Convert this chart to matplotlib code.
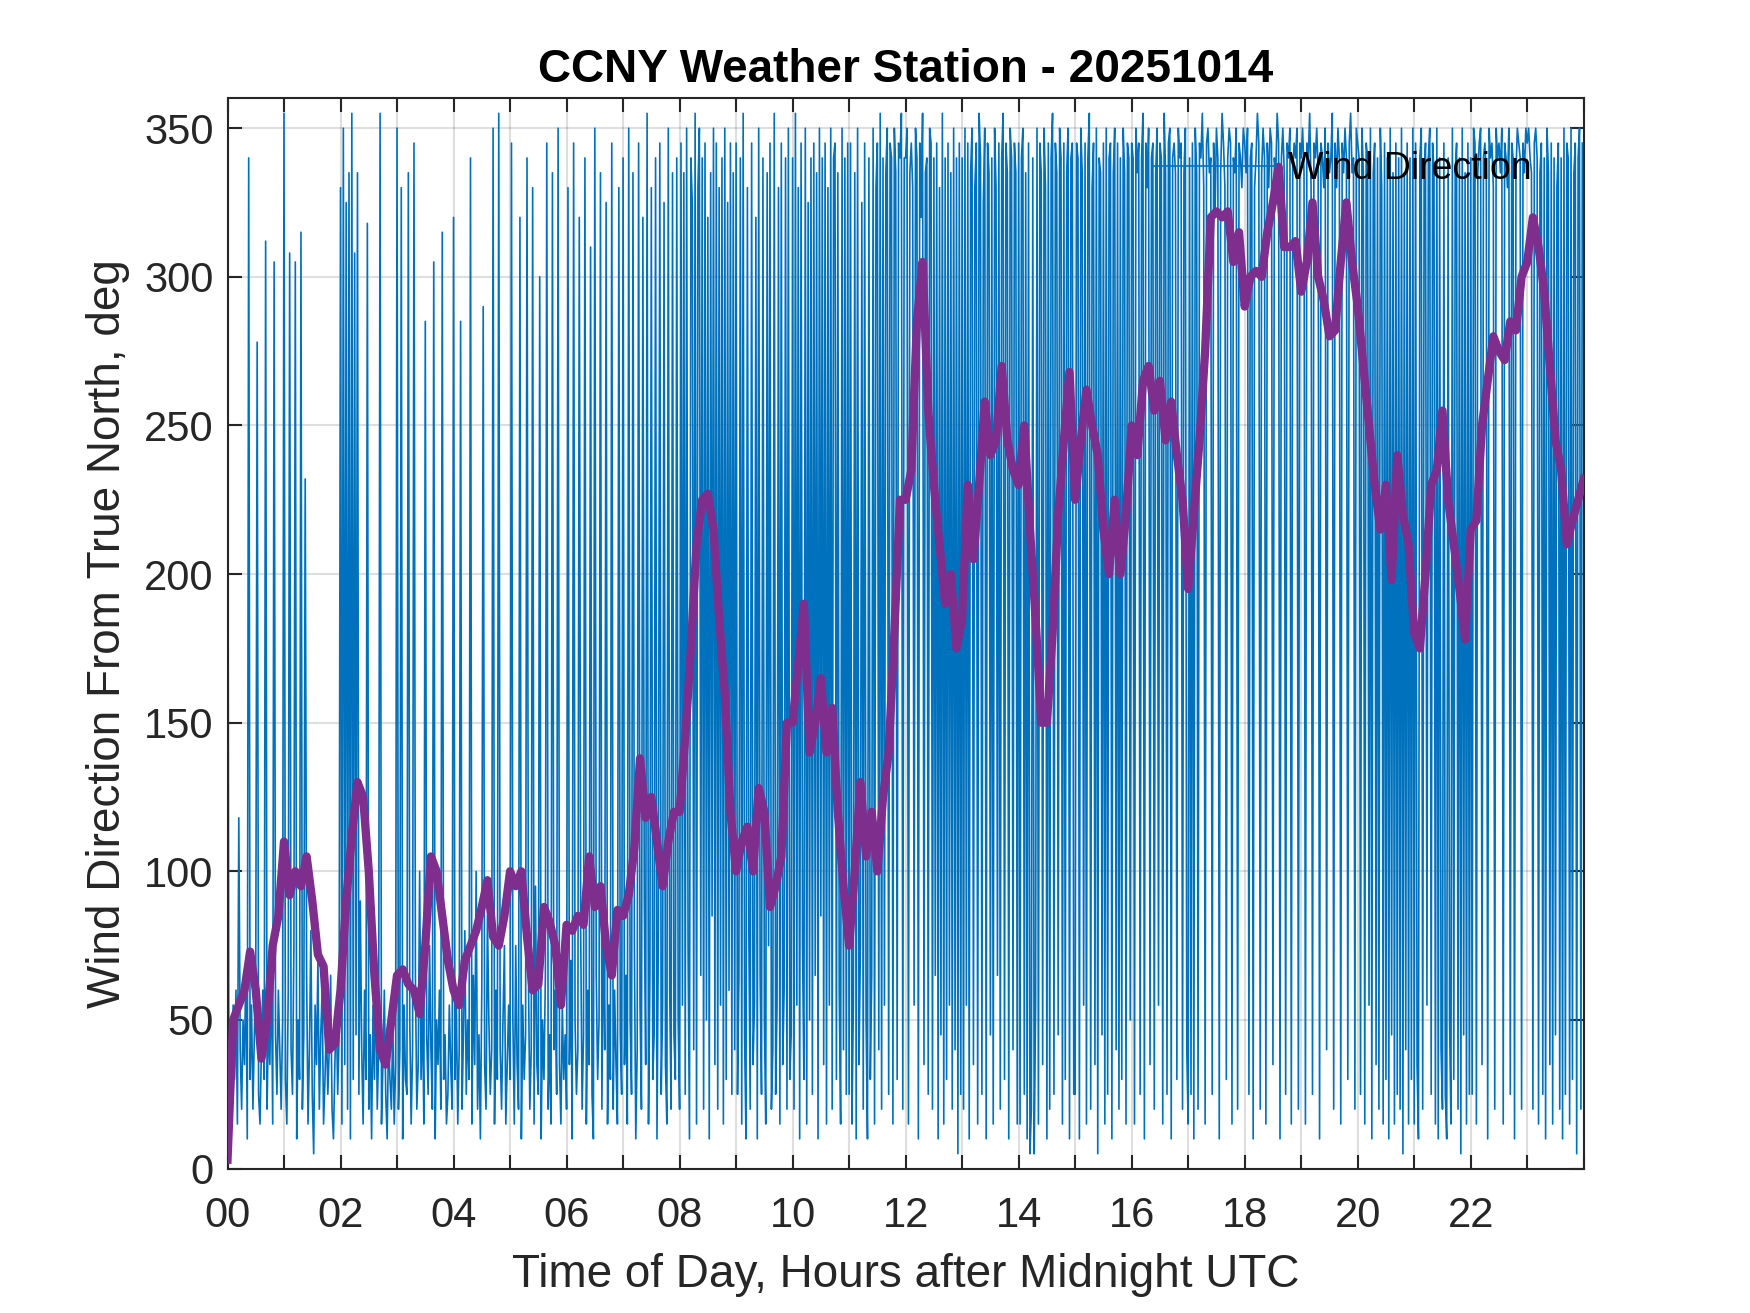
import numpy as np
import matplotlib
matplotlib.use("Agg")
import matplotlib.pyplot as plt

plt.rcParams['font.family'] = ['Liberation Sans', 'DejaVu Sans']

# wind direction samples, one list per hour (deg from true north)
wd_00 = [335, 10, 45, 25, 55, 30, 60, 15, 118, 40, 20, 50, 35, 70, 10, 340, 30, 55, 20, 45, 65, 278, 25, 15, 40, 60, 30, 312, 20, 50, 35, 70, 15, 305, 45, 25, 60, 40, 20, 50]
wd_01 = [355, 30, 15, 60, 308, 40, 25, 75, 305, 10, 50, 30, 315, 20, 45, 232, 65, 15, 40, 80, 25, 5, 55, 35, 70, 20, 45, 60, 15, 30, 50, 25, 40, 65, 20, 10, 35, 55, 25, 45]
wd_02 = [330, 15, 350, 35, 325, 20, 335, 10, 355, 30, 308, 45, 335, 25, 90, 40, 15, 60, 30, 318, 20, 45, 10, 55, 30, 70, 20, 40, 355, 15, 35, 60, 25, 10, 45, 30, 20, 50, 15, 35]
wd_03 = [350, 20, 40, 330, 10, 55, 30, 25, 335, 50, 15, 40, 345, 65, 20, 35, 100, 30, 55, 15, 285, 45, 25, 75, 40, 20, 305, 10, 50, 35, 60, 20, 315, 30, 45, 15, 25, 55, 35, 20]
wd_04 = [320, 30, 55, 15, 40, 285, 20, 45, 80, 25, 50, 30, 340, 15, 65, 35, 100, 20, 45, 10, 60, 290, 35, 20, 85, 50, 25, 40, 350, 15, 60, 30, 355, 40, 20, 50, 75, 15, 35, 55]
wd_05 = [30, 345, 50, 15, 75, 35, 20, 320, 10, 55, 30, 45, 340, 65, 20, 40, 330, 15, 95, 35, 25, 300, 10, 50, 30, 65, 345, 20, 45, 15, 335, 40, 60, 25, 350, 35, 15, 55, 30, 45]
wd_06 = [20, 330, 35, 70, 10, 345, 50, 25, 40, 320, 80, 20, 45, 340, 15, 60, 35, 310, 25, 10, 350, 65, 30, 50, 335, 20, 85, 40, 325, 15, 55, 30, 345, 20, 60, 35, 15, 330, 45, 25]
wd_07 = [340, 35, 65, 15, 350, 50, 25, 335, 75, 10, 40, 345, 55, 20, 320, 90, 35, 355, 15, 65, 330, 30, 45, 340, 10, 80, 345, 25, 55, 325, 35, 15, 350, 60, 20, 335, 45, 30, 340, 50]
wd_08 = [20, 345, 55, 335, 25, 350, 75, 10, 340, 325, 40, 355, 15, 330, 350, 65, 340, 20, 345, 50, 320, 10, 335, 85, 350, 35, 345, 20, 330, 55, 340, 15, 350, 30, 325, 60, 345, 25, 335, 40]
wd_09 = [345, 25, 65, 340, 15, 355, 45, 10, 330, 80, 20, 345, 35, 55, 320, 10, 350, 65, 25, 340, 50, 15, 335, 75, 345, 20, 40, 355, 25, 55, 330, 15, 345, 35, 60, 340, 20, 350, 30, 45]
wd_10 = [340, 20, 355, 55, 330, 10, 345, 75, 30, 350, 15, 325, 50, 340, 25, 345, 65, 335, 10, 350, 85, 340, 35, 345, 15, 330, 55, 350, 20, 340, 345, 30, 335, 60, 15, 350, 40, 340, 25, 345]
wd_11 = [25, 345, 15, 55, 335, 10, 350, 35, 75, 325, 20, 345, 50, 10, 340, 30, 65, 350, 15, 330, 345, 40, 355, 20, 340, 55, 335, 350, 25, 345, 340, 15, 350, 335, 30, 345, 340, 355, 20, 340]
wd_12 = [340, 350, 15, 335, 345, 330, 55, 350, 340, 10, 345, 320, 355, 35, 335, 340, 25, 350, 345, 20, 340, 65, 345, 10, 330, 45, 355, 15, 340, 30, 345, 55, 335, 20, 350, 40, 340, 5, 345, 25]
wd_13 = [340, 20, 350, 55, 345, 10, 335, 350, 35, 330, 345, 15, 355, 340, 25, 325, 350, 10, 345, 335, 45, 340, 15, 350, 330, 65, 345, 20, 340, 355, 30, 345, 335, 10, 350, 340, 40, 345, 335, 15]
wd_14 = [345, 15, 340, 350, 25, 335, 10, 345, 5, 20, 340, 5, 55, 350, 15, 345, 335, 35, 350, 330, 10, 345, 20, 340, 355, 25, 345, 335, 45, 350, 340, 15, 345, 30, 335, 350, 10, 340, 345, 25]
wd_15 = [25, 345, 340, 10, 350, 335, 55, 345, 15, 340, 355, 20, 330, 345, 35, 350, 5, 340, 335, 45, 345, 15, 350, 25, 340, 345, 10, 335, 350, 40, 345, 20, 340, 30, 350, 335, 15, 345, 340, 50]
wd_16 = [345, 340, 15, 350, 335, 345, 25, 340, 355, 10, 345, 330, 350, 35, 340, 345, 20, 335, 350, 55, 345, 340, 15, 355, 335, 25, 345, 350, 10, 340, 345, 335, 30, 350, 340, 345, 20, 335, 350, 40]
wd_17 = [15, 340, 25, 345, 10, 350, 335, 20, 345, 340, 355, 330, 15, 345, 350, 335, 340, 25, 345, 320, 350, 340, 10, 335, 355, 345, 330, 30, 340, 350, 345, 15, 340, 335, 350, 20, 345, 340, 330, 350]
wd_18 = [345, 335, 350, 25, 340, 345, 10, 330, 340, 355, 345, 20, 335, 350, 340, 15, 345, 330, 350, 345, 35, 340, 335, 355, 345, 10, 340, 350, 335, 25, 345, 340, 350, 15, 335, 345, 340, 350, 20, 345]
wd_19 = [340, 350, 335, 15, 345, 340, 355, 330, 25, 345, 340, 350, 335, 10, 345, 340, 330, 350, 40, 345, 335, 340, 355, 20, 345, 330, 350, 340, 15, 345, 335, 350, 340, 30, 345, 355, 335, 340, 20, 350]
wd_20 = [345, 340, 25, 350, 335, 15, 345, 340, 55, 350, 10, 335, 345, 35, 340, 20, 350, 330, 15, 345, 30, 340, 10, 350, 45, 335, 15, 345, 25, 340, 20, 350, 5, 335, 40, 345, 15, 340, 30, 350]
wd_21 = [15, 345, 35, 10, 340, 350, 20, 335, 345, 55, 340, 350, 25, 345, 335, 15, 350, 10, 340, 40, 20, 345, 25, 10, 340, 50, 15, 350, 30, 335, 345, 20, 340, 5, 350, 45, 335, 15, 345, 25]
wd_22 = [340, 25, 350, 345, 15, 335, 345, 350, 35, 340, 345, 335, 10, 350, 340, 345, 330, 20, 350, 340, 345, 335, 350, 15, 345, 340, 330, 350, 25, 345, 340, 10, 335, 350, 345, 340, 20, 345, 335, 350]
wd_23 = [345, 350, 340, 335, 20, 345, 350, 340, 15, 335, 345, 25, 340, 10, 350, 335, 35, 345, 15, 340, 45, 330, 345, 20, 340, 10, 350, 25, 345, 340, 15, 350, 30, 335, 345, 5, 340, 350, 20, 345]

# smoothed direction, every 0.1 h
avg_00_02 = [3, 50, 55, 60, 73, 60, 37, 50, 75, 85, 110, 92, 100, 95, 105, 90, 72, 68, 40, 42]
avg_02_04 = [60, 90, 112, 130, 125, 100, 65, 40, 35, 50, 65, 67, 62, 60, 52, 75, 105, 100, 85, 70]
avg_04_06 = [60, 55, 70, 75, 80, 88, 97, 78, 75, 85, 100, 95, 100, 78, 60, 62, 88, 83, 75, 55]
avg_06_08 = [82, 80, 85, 82, 105, 88, 95, 75, 65, 87, 85, 92, 108, 138, 118, 125, 110, 95, 110, 120]
avg_08_10 = [120, 145, 175, 210, 225, 227, 215, 185, 160, 120, 100, 110, 115, 100, 128, 120, 88, 95, 105, 150]
avg_10_12 = [150, 170, 190, 140, 150, 165, 140, 155, 120, 95, 75, 100, 130, 105, 120, 100, 125, 140, 180, 225]
avg_12_14 = [225, 235, 285, 305, 255, 230, 210, 190, 200, 175, 185, 230, 205, 230, 258, 240, 245, 270, 245, 235]
avg_14_16 = [230, 250, 215, 185, 150, 150, 180, 220, 245, 268, 225, 245, 262, 250, 240, 215, 200, 225, 200, 220]
avg_16_18 = [250, 240, 265, 270, 255, 265, 245, 258, 240, 225, 195, 220, 245, 275, 320, 322, 320, 322, 305, 315]
avg_18_20 = [290, 300, 302, 300, 315, 325, 337, 310, 310, 312, 295, 305, 325, 300, 292, 280, 282, 305, 325, 305]
avg_20_22 = [290, 270, 250, 230, 215, 230, 198, 240, 220, 210, 180, 175, 200, 230, 235, 255, 225, 210, 195, 178]
avg_22_24 = [215, 218, 250, 265, 280, 275, 272, 285, 282, 300, 305, 320, 310, 295, 270, 245, 235, 210, 218, 225, 232]

hour_labels = ['00', '', '02', '', '04', '', '06', '', '08', '', '10', '', '12', '',
               '14', '', '16', '', '18', '', '20', '', '22', '', '']

hours = [wd_00, wd_01, wd_02, wd_03, wd_04, wd_05, wd_06, wd_07, wd_08, wd_09, wd_10, wd_11,
         wd_12, wd_13, wd_14, wd_15, wd_16, wd_17, wd_18, wd_19, wd_20, wd_21, wd_22, wd_23]
t_wd = np.concatenate([h + np.arange(len(v)) / len(v) for h, v in enumerate(hours)])
wd = np.concatenate(hours)

avg = np.array(avg_00_02 + avg_02_04 + avg_04_06 + avg_06_08 + avg_08_10 + avg_10_12 +
               avg_12_14 + avg_14_16 + avg_16_18 + avg_18_20 + avg_20_22 + avg_22_24)
t_avg = np.arange(len(avg)) * 0.1

fig = plt.figure(figsize=(17.5, 13.13), dpi=100)
ax = fig.add_axes([0.13, 0.11, 0.775, 0.815])

dark = '#262626'
ax.plot(t_wd, wd, color='#0072BD', lw=1.2, label='Wind Direction', zorder=2)
ax.plot(t_avg, avg, color='#7E2F8E', lw=6, zorder=3)

ax.set_xlim(0, 24)
ax.set_ylim(0, 360)
ax.set_xticks(range(25))
ax.set_xticklabels(hour_labels)
ax.set_yticks(range(0, 351, 50))

ax.grid(True, color=dark, alpha=0.15, lw=1.5)
ax.set_axisbelow(True)
ax.tick_params(direction='in', length=10, width=1.5, colors=dark, labelsize=30,
               top=True, right=True)
ax.tick_params(axis='x', pad=20)
ax.tick_params(axis='y', pad=10)
for s in ax.spines.values():
    s.set_color(dark)
    s.set_linewidth(1.5)

ax.set_title('CCNY Weather Station - 20251014', fontsize=33, fontweight='bold', pad=12)
ax.set_xlabel('Time of Day, Hours after Midnight UTC', fontsize=33, color=dark, labelpad=12)
ax.set_ylabel('Wind Direction From True North, deg', fontsize=33, color=dark, labelpad=10)

ax.legend(loc='upper right', frameon=False, fontsize=27, handlelength=3.3,
          handletextpad=0.3, borderaxespad=1.0)

fig.savefig('out.png', dpi=100)
